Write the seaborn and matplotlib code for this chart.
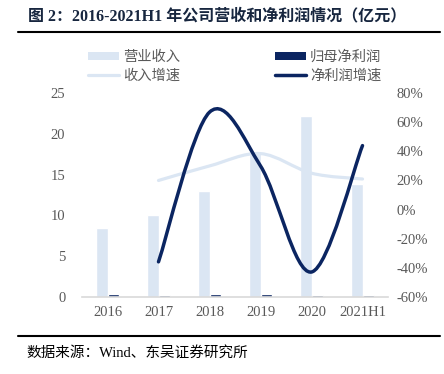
import matplotlib
matplotlib.use("Agg")
import pandas as pd
import matplotlib.pyplot as plt
import seaborn as sns
from matplotlib.path import Path
from matplotlib.patches import PathPatch, Patch
from matplotlib.lines import Line2D


years = ["2016", "2017", "2018", "2019", "2020", "2021H1"]
revenue = [8.4, 10.0, 13.0, 17.7, 22.2, 13.9]          # 营业收入 (亿元)
net_profit = [0.28, 0.15, 0.30, 0.35, 0.22, 0.20]      # 归母净利润 (亿元)
growth_years = ["2017", "2018", "2019", "2020", "2021H1"]
revenue_growth = [20, 30, 38.5, 25, 21]                # 收入增速 (%)
profit_growth = [-36, 67, 30, -43, 44]                 # 净利润增速 (%)

LIGHT = "#dbe6f3"
NAVY = "#0b2561"
GRAY = "#595959"
SERIF = ["Liberation Serif", "Noto Sans CJK SC"]
CJK = ["Noto Sans CJK SC", "DejaVu Sans"]


def smooth_path(xs, ys):
    # Excel-style smoothed line: one cubic Bezier between each pair of points
    pts = list(zip(xs, ys))
    n = len(pts)
    verts = [pts[0]]
    codes = [Path.MOVETO]
    for i in range(n - 1):
        p0 = pts[max(i - 1, 0)]
        p1 = pts[i]
        p2 = pts[i + 1]
        p3 = pts[min(i + 2, n - 1)]
        c1 = (p1[0] + (p2[0] - p0[0]) / 6, p1[1] + (p2[1] - p0[1]) / 6)
        c2 = (p2[0] - (p3[0] - p1[0]) / 6, p2[1] - (p3[1] - p1[1]) / 6)
        verts += [c1, c2, p2]
        codes += [Path.CURVE4] * 3
    return Path(verts, codes)


sns.set_style("white")
plt.rcParams["font.family"] = SERIF

fig = plt.figure(figsize=(4.44, 3.74), dpi=100)
ax = fig.add_axes([82 / 444, 1 - 296.7 / 374, 306 / 444, 203.4 / 374])

df = pd.DataFrame({
    "year": years * 2,
    "value": revenue + net_profit,
    "series": ["营业收入"] * len(years) + ["归母净利润"] * len(years),
})
sns.barplot(data=df, x="year", y="value", hue="series", palette=[LIGHT, NAVY],
            width=0.47, saturation=1, legend=False, ax=ax)

ax.set_xlim(-0.5, 5.5)
ax.set_ylim(0, 25)
ax.set_yticks(range(0, 26, 5))
ax.set_xlabel("")
ax.set_ylabel("")
for side in ["top", "left", "right"]:
    ax.spines[side].set_visible(False)
ax.spines["bottom"].set_color("#d9d9d9")
ax.spines["bottom"].set_linewidth(1.2)
ax.tick_params(axis="y", length=0, pad=12, labelsize=10.5, labelcolor=GRAY)
ax.tick_params(axis="x", length=0, pad=7, labelsize=10.5, labelcolor=GRAY)

ax2 = ax.twinx()
ax2.set_ylim(-60, 80)
ticks = list(range(-60, 81, 20))
ax2.set_yticks(ticks)
ax2.set_yticklabels([f"{t}%" for t in ticks])
for side in ["top", "left", "right", "bottom"]:
    ax2.spines[side].set_visible(False)
ax2.tick_params(axis="y", length=0, pad=6, labelsize=10.5, labelcolor=GRAY)

gx = [years.index(y) for y in growth_years]
ax2.add_patch(PathPatch(smooth_path(gx, revenue_growth), facecolor="none",
                        edgecolor=LIGHT, lw=2.3, capstyle="round", joinstyle="round"))
ax2.add_patch(PathPatch(smooth_path(gx, profit_growth), facecolor="none",
                        edgecolor=NAVY, lw=2.5, capstyle="round", joinstyle="round"))

handles = [
    Patch(facecolor=LIGHT, edgecolor="none"),
    Line2D([], [], color=LIGHT, lw=2.3),
    Patch(facecolor=NAVY, edgecolor="none"),
    Line2D([], [], color=NAVY, lw=2.5),
]
labels = ["营业收入", "收入增速", "归母净利润", "净利润增速"]
fig.legend(handles, labels, ncol=2, loc="center", bbox_to_anchor=(0.5287, 0.822),
           frameon=False, borderpad=0, handlelength=2.17, handleheight=0.55,
           handletextpad=0.3, columnspacing=6.6, labelspacing=0.35,
           prop={"family": CJK, "size": 10.3}, labelcolor=GRAY)

fig.text(28 / 444, 1 - 16 / 374, "图 2：2016-2021H1 年公司营收和净利润情况（亿元）",
         fontsize=11.5, fontweight="bold", color="#17263f", va="center", ha="left")
fig.add_artist(Line2D([18 / 444, 440 / 444], [1 - 32 / 374] * 2, color="black", lw=1.5))
fig.add_artist(Line2D([18 / 444, 440 / 444], [1 - 336 / 374] * 2, color="black", lw=1.5))
fig.text(26 / 444, 1 - 353 / 374, "数据来源：Wind、东吴证券研究所",
         fontsize=10.5, color="black", va="center", ha="left")

fig.savefig("out.png", dpi=100)
